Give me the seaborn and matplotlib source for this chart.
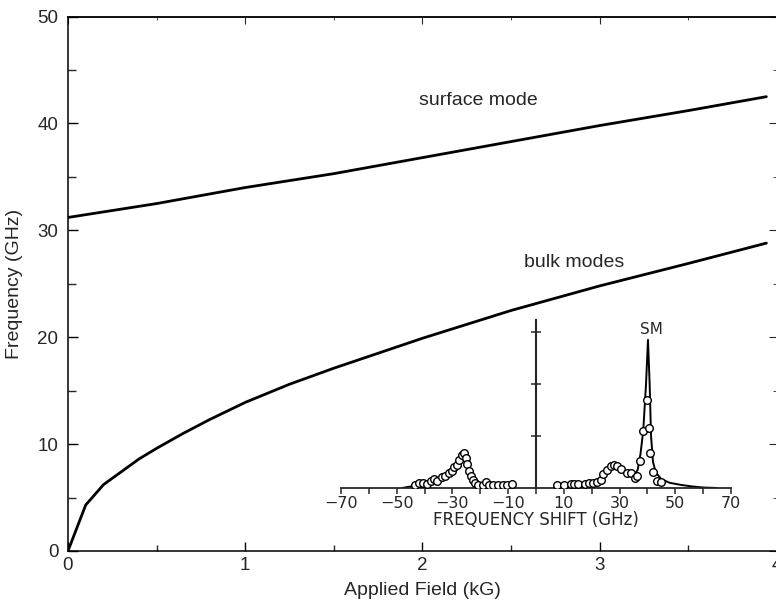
import numpy as np
import pandas as pd
import matplotlib
matplotlib.use("Agg")
import matplotlib.pyplot as plt
import seaborn as sns

# main panel: mode frequency vs applied field
field_surface = [0.0, 0.5, 1.0, 1.5, 2.0, 2.5, 3.0, 3.5, 3.94]
freq_surface = [31.2, 32.5, 34.0, 35.3, 36.8, 38.3, 39.8, 41.2, 42.5]

field_bulk = [0.0, 0.1, 0.2, 0.3, 0.4, 0.5, 0.65, 0.8, 1.0, 1.25, 1.5, 1.75,
              2.0, 2.5, 3.0, 3.5, 3.94]
freq_bulk = [0.0, 4.3, 6.2, 7.4, 8.6, 9.6, 11.0, 12.3, 13.9, 15.6, 17.1, 18.5,
             19.9, 22.5, 24.8, 26.9, 28.8]

# inset: Brillouin spectrum, measured points
shift_pts = [-43.4, -41.9, -40.7, -39.2, -37.8, -36.6, -35.4, -33.9, -32.7, -31.2,
             -30.3, -29.4, -28.5, -27.5, -26.7, -25.8, -25.2, -24.6, -23.9, -23.4,
             -22.7, -21.9, -20.7, -19.1, -17.9, -16.8, -15.3, -13.5, -12.0, -10.5,
             -8.7,
             7.4, 10.0, 12.4, 13.6, 15.2, 17.6, 19.1, 20.6, 21.8, 23.2,
             24.2, 25.4, 26.8, 28.0, 29.2, 30.4, 32.6, 34.0, 35.5, 36.4,
             37.3, 38.5, 39.7, 40.7, 40.9, 41.9, 43.3, 44.8]
inten_pts = [0.06, 0.09, 0.10, 0.08, 0.13, 0.17, 0.14, 0.21, 0.24, 0.28,
             0.32, 0.40, 0.45, 0.53, 0.64, 0.67, 0.58, 0.46, 0.32, 0.24,
             0.15, 0.10, 0.06, 0.06, 0.11, 0.06, 0.06, 0.06, 0.06, 0.06,
             0.08,
             0.05, 0.05, 0.08, 0.08, 0.08, 0.08, 0.10, 0.10, 0.12, 0.16,
             0.26, 0.35, 0.43, 0.44, 0.42, 0.37, 0.29, 0.28, 0.19, 0.24,
             0.51, 1.09, 1.70, 1.15, 0.67, 0.30, 0.13, 0.11]

# inset: fitted curves
fit_as_shift = [-48, -45, -42, -39, -36, -33, -30, -28, -26.5, -26.0, -25.3,
                -24.5, -23.5, -22.5, -21, -19, -16, -12]
fit_as_inten = [0.0, 0.03, 0.07, 0.11, 0.16, 0.23, 0.34, 0.47, 0.62, 0.68, 0.62,
                0.45, 0.27, 0.15, 0.08, 0.04, 0.02, 0.0]
fit_s_shift = [18, 20, 22, 24, 26, 28, 30, 32, 34, 35.5, 36.5, 37.5, 38.5, 39.5,
               40.2, 40.8, 41.3, 42, 43, 45, 48, 52, 56, 60, 65]
fit_s_inten = [0.0, 0.05, 0.10, 0.22, 0.38, 0.44, 0.40, 0.32, 0.27, 0.26, 0.35,
               0.65, 1.10, 2.00, 2.85, 2.00, 1.00, 0.50, 0.30, 0.17, 0.10, 0.06,
               0.03, 0.01, 0.0]

sns.set_style("ticks")
plt.rcParams["font.family"] = ["Liberation Sans", "DejaVu Sans"]

fig = plt.figure(figsize=(7.76, 6.07), dpi=100)
ax = fig.add_axes([0.0876, 0.0923, 0.9137, 0.8805])

sns.lineplot(x=field_surface, y=freq_surface, ax=ax, color="black", lw=2.0,
             sort=False, estimator=None)
sns.lineplot(x=field_bulk, y=freq_bulk, ax=ax, color="black", lw=2.0,
             sort=False, estimator=None)

ax.set_xlim(0, 4)
ax.set_ylim(0, 50)
ax.set_xticks([0, 1, 2, 3, 4])
ax.set_xticks(np.arange(0, 4.01, 0.5), minor=True)
ax.set_yticks([0, 10, 20, 30, 40, 50])
ax.set_yticks(np.arange(0, 50.1, 5), minor=True)
ax.tick_params(axis="both", which="major", direction="in", labelsize=13.5,
               width=1.0, color="black")
ax.tick_params(axis="x", which="major", length=6.5, pad=4)
ax.tick_params(axis="x", which="minor", direction="in", length=4.3, width=1.0)
ax.tick_params(axis="y", which="major", length=7, pad=7)
ax.tick_params(axis="y", which="minor", direction="in", length=5.5, width=1.0)
for s in ax.spines.values():
    s.set_linewidth(1.1)
    s.set_color("black")

# top and right ticks (shorter, unlabelled)
top = ax.secondary_xaxis("top")
top.set_xticks([0, 1, 2, 3, 4])
top.set_xticks(np.arange(0, 4.01, 0.5), minor=True)
top.tick_params(which="major", direction="in", length=5, labeltop=False)
top.tick_params(which="minor", direction="in", length=2.5)
top.spines["top"].set_linewidth(1.1)
right = ax.secondary_yaxis("right")
right.set_yticks([0, 10, 20, 30, 40, 50])
right.set_yticks(np.arange(0, 50.1, 5), minor=True)
right.tick_params(which="major", direction="in", length=6, labelright=False)
right.tick_params(which="minor", direction="in", length=3)

ax.set_xlabel("Applied Field (kG)", fontsize=14, labelpad=6)
ax.set_ylabel("Frequency (GHz)", fontsize=14, labelpad=10)
ax.text(2.318, 42.1, "surface mode", fontsize=14, ha="center", va="center")
ax.text(2.854, 27.0, "bulk modes", fontsize=14, ha="center", va="center")

# inset spectrum
ins = fig.add_axes([0.4394, 0.19605, 0.5026, 0.2827])
ins.patch.set_visible(False)
sns.lineplot(x=fit_as_shift, y=fit_as_inten, ax=ins, color="black", lw=1.4,
             sort=False, estimator=None)
sns.lineplot(x=fit_s_shift, y=fit_s_inten, ax=ins, color="black", lw=1.4,
             sort=False, estimator=None)
sns.scatterplot(x=shift_pts, y=inten_pts, ax=ins, marker="o", s=30,
                facecolor="white", edgecolor="black", linewidth=1.0, zorder=3)
ins.set_xlim(-70, 70)
ins.set_ylim(0, 3.3)
for side in ["top", "right"]:
    ins.spines[side].set_visible(False)
ins.spines["left"].set_position(("data", 0))
ins.spines["left"].set_bounds(0, 3.23)
ins.spines["left"].set_linewidth(1.5)
ins.spines["bottom"].set_bounds(-70, 70)
ins.spines["bottom"].set_linewidth(1.3)
ins.set_xticks(np.arange(-70, 71, 10))
ins.set_xticklabels(["−70", "", "−50", "", "−30", "", "−10", "", "10", "", "30",
                     "", "50", "", "70"])
ins.set_yticks([1, 2, 3])
ins.set_yticklabels([])
ins.tick_params(axis="x", direction="out", length=4, width=1.1, pad=2,
                labelsize=11.5, labelfontfamily="DejaVu Sans")
ins.tick_params(axis="y", direction="inout", length=7, width=1.1)
ins.set_xlabel("FREQUENCY SHIFT (GHz)", fontsize=12, family="DejaVu Sans",
               labelpad=0)
ins.set_ylabel("")
ins.text(41.6, 3.04, "SM", fontsize=11, family="DejaVu Sans", ha="center",
         va="center")

fig.savefig("out.png", dpi=100)
